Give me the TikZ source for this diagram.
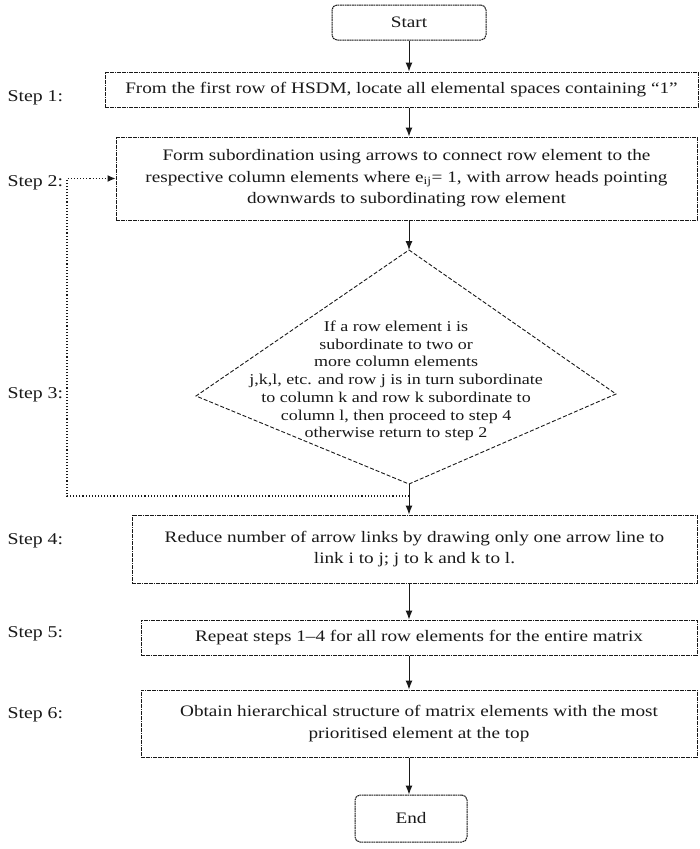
\documentclass[tikz,border=0pt]{standalone}
\usepackage{fontspec}
\setmainfont[FakeStretch=1.2]{Liberation Serif}
\setsansfont{Liberation Sans}
\usetikzlibrary{arrows.meta}
\definecolor{ink}{RGB}{25,25,25}
\begin{document}
\begin{tikzpicture}[x=1pt,y=-1pt,
  stepbox/.style={draw=ink, line width=1pt, dash pattern=on 1.8pt off 0.6pt, rectangle, inner sep=2pt, align=center, font=\fontsize{16}{21.5}\selectfont, text=ink},
  term/.style={stepbox, rounded corners=5pt},
  lab/.style={anchor=west, font=\fontsize{16.5}{18}\selectfont, text=ink},
  arr/.style={draw=ink, line width=1pt, -{Latex[length=9pt,width=7pt]}},
  loopline/.style={draw=ink, line width=1.1pt, dotted, -{Latex[length=8pt,width=7pt]}},
  diam/.style={draw=ink, line width=0.9pt, dash pattern=on 4pt off 2pt},
]
\useasboundingbox[fill=white] (0,0) rectangle (700,849);

% terminals and steps
\node[term, minimum width=154pt, minimum height=35pt] (start) at (409,22.5) {Start};
\node[stepbox, minimum width=593pt, minimum height=35pt] (s1) at (401.5,89.5)
  {From the first row of HSDM, locate all elemental spaces containing “1”};
\node[stepbox, minimum width=581pt, minimum height=83pt] (s2) at (406.5,178.5)
  {Form subordination using arrows to connect row element to the\\
   respective column elements where e\textsubscript{ij}= 1, with arrow heads pointing\\
   downwards to subordinating row element};

% decision diamond
\coordinate (dt) at (409,250);
\coordinate (dl) at (196,396);
\coordinate (dr) at (616,394);
\coordinate (db) at (409,484);
\draw[diam] (dt) -- (dr) -- (db) -- (dl) -- cycle;
\node[align=center, text=ink, font=\fontsize{15}{17.7}\selectfont] (dtext) at (396,381)
  {If a row element i is\\ subordinate to two or\\ more column elements\\
   j,k,l, etc. and row j is in turn subordinate\\ to column k and row k subordinate to\\
   column l, then proceed to step 4\\ otherwise return to step 2};

\node[stepbox, minimum width=565pt, minimum height=68pt] (s4) at (414.5,549)
  {Reduce number of arrow links by drawing only one arrow line to\\ link i to j; j to k and k to l.};
\node[stepbox, minimum width=556pt, minimum height=35pt] (s5) at (419,637.5)
  {Repeat steps 1–4 for all row elements for the entire matrix};
\node[stepbox, minimum width=556pt, minimum height=67pt] (s6) at (419,723.5)
  {Obtain hierarchical structure of matrix elements with the most\\ prioritised element at the top};
\node[term, minimum width=112pt, minimum height=47pt] (stop) at (411,818.5) {End};

% step labels
\node[lab] (l1) at (4,98) {Step 1:};
\node[lab] (l2) at (4,183) {Step 2:};
\node[lab] (l3) at (4,395) {Step 3:};
\node[lab] (l4) at (4,541) {Step 4:};
\node[lab] (l5) at (4,634) {Step 5:};
\node[lab] (l6) at (4,715) {Step 6:};

% connectors
\draw[arr] (start.south) -- (start.south |- s1.north);
\draw[arr] (start.south |- s1.south) -- (start.south |- s2.north);
\draw[arr] (start.south |- s2.south) -- (dt);
\coordinate (jn) at (409,496);
\coordinate (lpb) at (67,496);
\draw[draw=ink, line width=1pt] (db) -- (jn);
\draw[arr] (jn) -- (jn |- s4.north);
\draw[loopline] (jn) -- (lpb) -- (lpb |- s2.west) -- (s2.west);
\draw[arr] (jn |- s4.south) -- (jn |- s5.north);
\draw[arr] (jn |- s5.south) -- (jn |- s6.north);
\draw[arr] (jn |- s6.south) -- (jn |- stop.north);
\end{tikzpicture}
\end{document}
